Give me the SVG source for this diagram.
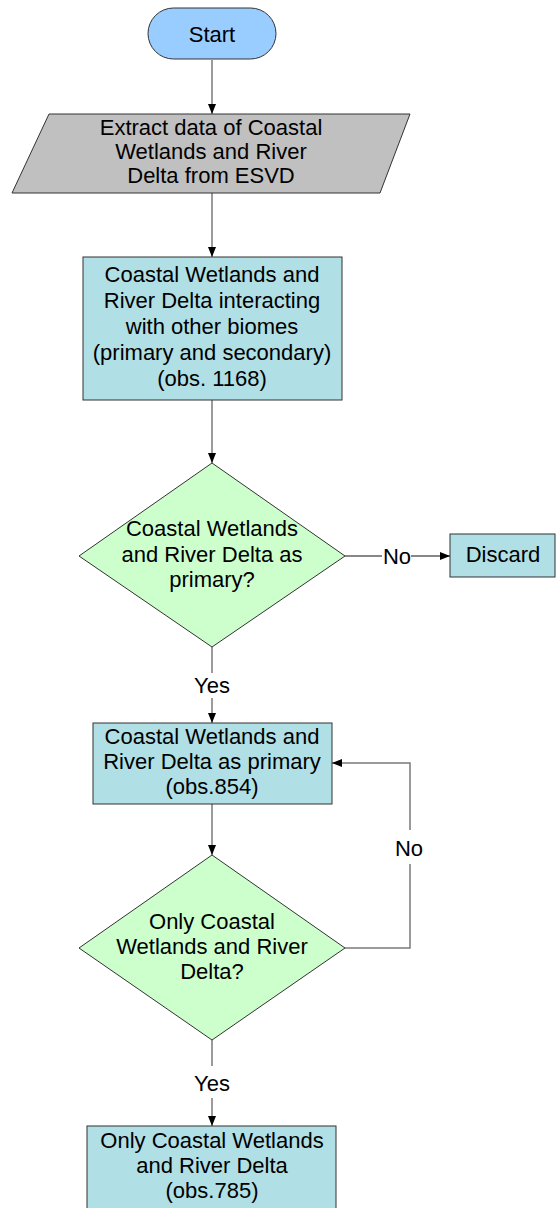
<svg xmlns="http://www.w3.org/2000/svg" width="556" height="1208" viewBox="0 0 556 1208">
<defs>
<marker id="arr" markerUnits="userSpaceOnUse" markerWidth="10" markerHeight="10" viewBox="0 0 10 10" refX="10" refY="5" orient="auto">
<path d="M0,1 L10,5 L0,9 Z" fill="#000"/>
</marker>
<style>
text{font-family:"Liberation Sans",Arial,sans-serif;font-size:22px;fill:#000;text-anchor:middle}
.sh{stroke:#333;stroke-width:1}
.c{stroke:#7a7a7a;stroke-width:1.5;fill:none}
.ca{stroke:#7a7a7a;stroke-width:1.5;fill:none;marker-end:url(#arr)}
.k{stroke:#111;stroke-width:1.2}
</style>
</defs>
<rect width="556" height="1208" fill="#fff"/>
<g id="connectors">
<path class="ca" d="M212,60 V114"/>
<path class="ca" d="M212,193 V257"/>
<path class="ca" d="M212,400 V463"/>
<path class="c k" d="M345,556 H382"/>
<path class="ca k" d="M411,556 H450"/>
<text x="397" y="564">No</text>
<path class="c" d="M212,647 V673"/>
<path class="ca" d="M212,698 V723"/>
<text x="212" y="693">Yes</text>
<path class="ca" d="M212,804 V855"/>
<path class="c" d="M345,948 H410 V864"/>
<path class="ca" d="M410,830 V763 H332"/>
<text x="409" y="856">No</text>
<path class="c" d="M212,1040 V1066"/>
<path class="ca" d="M212,1098 V1126"/>
<text x="212" y="1091">Yes</text>
</g>
<g id="start">
<rect class="sh" x="148" y="8" width="128" height="51" rx="25.5" fill="#99CCFF"/>
<text x="212" y="42">Start</text>
</g>
<g id="extract">
<polygon class="sh" points="49,114 410,114 380,193 12,193" fill="#C0C0C0"/>
<text x="211" y="135">Extract data of Coastal</text>
<text x="211" y="159">Wetlands and River</text>
<text x="211" y="183">Delta from ESVD</text>
</g>
<g id="box1">
<rect class="sh" x="83" y="257" width="259" height="143" fill="#B0DFE5"/>
<text x="212" y="282">Coastal Wetlands and</text>
<text x="212" y="308">River Delta interacting</text>
<text x="212" y="334">with other biomes</text>
<text x="212" y="360">(primary and secondary)</text>
<text x="212" y="386">(obs. 1168)</text>
</g>
<g id="decision1">
<polygon class="sh" points="212,463 345,556 212,647 79,556" fill="#CCFFCC"/>
<text x="212" y="536">Coastal Wetlands</text>
<text x="212" y="562">and River Delta as</text>
<text x="212" y="587">primary?</text>
</g>
<g id="discard">
<rect class="sh" x="450" y="534" width="105" height="43" fill="#B0DFE5"/>
<text x="503" y="562">Discard</text>
</g>
<g id="box2">
<rect class="sh" x="93" y="723" width="239" height="81" fill="#B0DFE5"/>
<text x="212" y="744">Coastal Wetlands and</text>
<text x="212" y="769">River Delta as primary</text>
<text x="212" y="794">(obs.854)</text>
</g>
<g id="decision2">
<polygon class="sh" points="212,855 345,948 212,1040 79,948" fill="#CCFFCC"/>
<text x="212" y="929">Only Coastal</text>
<text x="212" y="954">Wetlands and River</text>
<text x="212" y="979">Delta?</text>
</g>
<g id="box3">
<rect class="sh" x="87" y="1126" width="249" height="90" fill="#B0DFE5"/>
<text x="212" y="1148">Only Coastal Wetlands</text>
<text x="212" y="1173">and River Delta</text>
<text x="212" y="1198">(obs.785)</text>
</g>
</svg>
